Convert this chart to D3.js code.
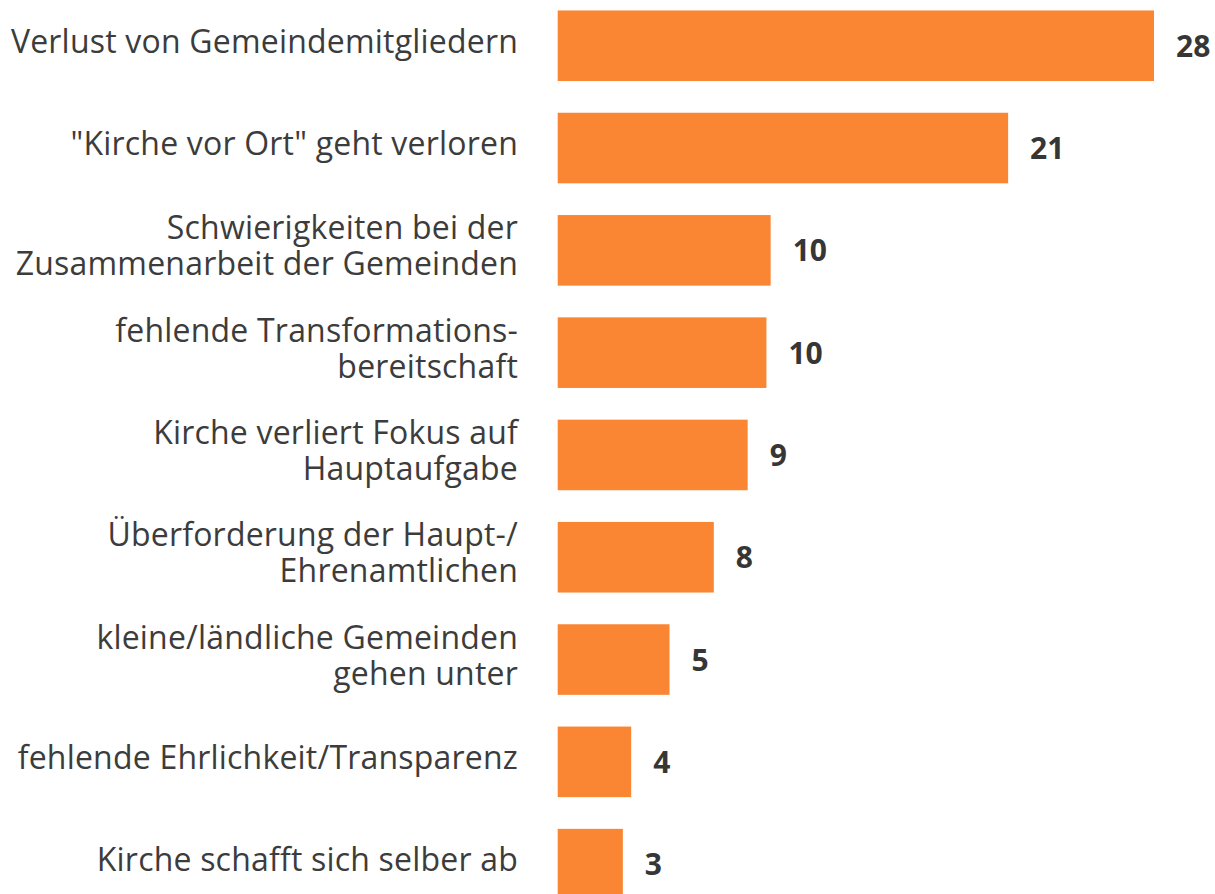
<!DOCTYPE html>
<html>
<head>
<meta charset="utf-8">
<script src="https://cdn.jsdelivr.net/npm/d3@7"></script>
<style>
  body { margin: 0; background: #fff; }
  svg { display: block; }
</style>
</head>
<body>
<svg id="chart" width="1215" height="894"></svg>
<script>
// categories (top to bottom), line breaks as in the original
const categories = [
    ["Verlust von Gemeindemitgliedern"],
    ["\"Kirche vor Ort\" geht verloren"],
    ["Schwierigkeiten bei der", "Zusammenarbeit der Gemeinden"],
    ["fehlende Transformations-", "bereitschaft"],
    ["Kirche verliert Fokus auf", "Hauptaufgabe"],
    ["Überforderung der Haupt-/", "Ehrenamtlichen"],
    ["kleine/ländliche Gemeinden", "gehen unter"],
    ["fehlende Ehrlichkeit/Transparenz"],
    ["Kirche schafft sich selber ab"]
];
// bar lengths
const values = [28, 21.15, 10, 9.8, 8.92, 7.33, 5.25, 3.45, 3.06];
// numbers printed next to the bars
const valueLabels = ["28", "21", "10", "10", "9", "8", "5", "4", "3"];

const svg = d3.select("#chart");
const x0 = 557.7;

var x = d3.scaleLinear()
    .domain([0, 28])
    .range([x0, 1154]);

var y = d3.scaleBand()
    .domain(d3.range(categories.length))
    .range([-5.4, 915.3])
    .paddingInner(0.31)
    .paddingOuter(0.155);

// bars
svg.append("g")
    .selectAll("rect")
    .data(values)
    .enter().append("rect")
    .attr("x", x(0))
    .attr("y", (d, i) => y(i))
    .attr("width", d => x(d) - x(0))
    .attr("height", y.bandwidth())
    .attr("fill", "#fa8633");

// value labels
svg.append("g")
    .selectAll("text")
    .data(values)
    .enter().append("text")
    .attr("x", d => x(d) + 22)
    .attr("y", (d, i) => y(i) + y.bandwidth() / 2 + 11)
    .attr("font-family", "'Open Sans', sans-serif")
    .attr("font-size", 30)
    .attr("font-weight", "bold")
    .attr("fill", "#363636")
    .text((d, i) => valueLabels[i]);

// category labels, right aligned
const lineH = 36;
var cat = svg.append("g")
    .selectAll("text")
    .data(categories)
    .enter().append("text")
    .attr("text-anchor", "end")
    .attr("font-family", "'Open Sans', sans-serif")
    .attr("font-size", 32)
    .attr("letter-spacing", 0.2)
    .attr("fill", "#3c3c3c");

cat.each(function(lines, i) {
    const cy = y(i) + y.bandwidth() / 2;
    const first = cy - (lines.length - 1) * lineH / 2 + 7;
    d3.select(this).selectAll("tspan")
        .data(lines)
        .enter().append("tspan")
        .attr("x", 518)
        .attr("y", (l, k) => first + k * lineH)
        .text(l => l);
});
</script>
</body>
</html>
